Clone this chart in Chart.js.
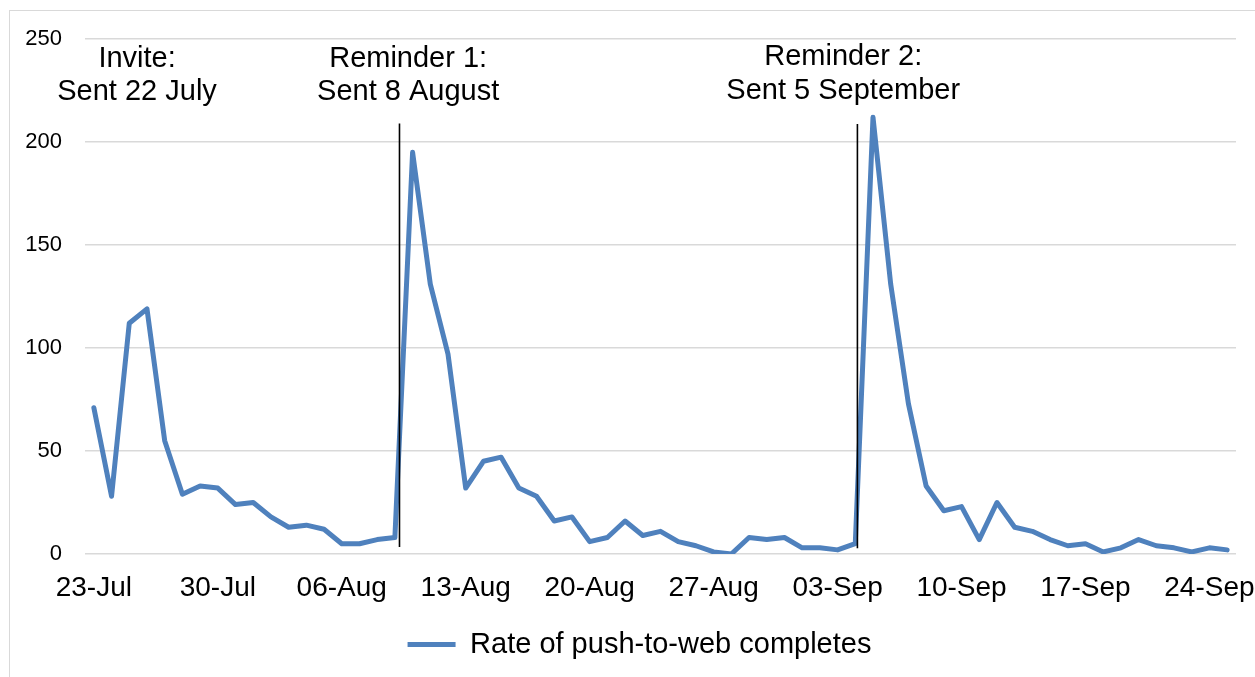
<!DOCTYPE html>
<html>
<head>
<meta charset="utf-8">
<script src="https://cdn.jsdelivr.net/npm/chart.js@4/dist/chart.umd.min.js"></script>
<style>
 html, body { margin: 0; padding: 0; background: #fff; overflow: hidden; }
 .frame { position: absolute; left: 9px; top: 10px; width: 1300px; height: 700px; border: 1.5px solid #d9d9d9; }
 .wrap { position: absolute; left: 0; top: 0; width: 1255px; height: 677px; }
</style>
</head>
<body>
<div class="frame"></div>
<div class="wrap"><canvas id="myChart"></canvas></div>
<script>
'use strict';

var days = [
 '23-Jul','24-Jul','25-Jul','26-Jul','27-Jul','28-Jul','29-Jul','30-Jul','31-Jul',
 '01-Aug','02-Aug','03-Aug','04-Aug','05-Aug','06-Aug','07-Aug','08-Aug','09-Aug','10-Aug',
 '11-Aug','12-Aug','13-Aug','14-Aug','15-Aug','16-Aug','17-Aug','18-Aug','19-Aug','20-Aug',
 '21-Aug','22-Aug','23-Aug','24-Aug','25-Aug','26-Aug','27-Aug','28-Aug','29-Aug','30-Aug','31-Aug',
 '01-Sep','02-Sep','03-Sep','04-Sep','05-Sep','06-Sep','07-Sep','08-Sep','09-Sep','10-Sep',
 '11-Sep','12-Sep','13-Sep','14-Sep','15-Sep','16-Sep','17-Sep','18-Sep','19-Sep','20-Sep',
 '21-Sep','22-Sep','23-Sep','24-Sep','25-Sep'
];
var completes = [
 71, 28, 112, 119, 55, 29, 33, 32, 24, 25, 18, 13, 14, 12, 5, 5, 7, 8,
 195, 131, 97, 32, 45, 47, 32, 28, 16, 18, 6, 8, 16, 9, 11, 6, 4, 1, 0, 8, 7, 8, 3, 3, 2, 5,
 212, 131, 73, 33, 21, 23, 7, 25, 13, 11, 7, 4, 5, 1, 3, 7, 4, 3, 1, 3, 2
];
var seriesName = 'Rate of push-to-web completes';
var yTicks = [0, 50, 100, 150, 200, 250];
var eventTitles = ['Invite:', 'Reminder 1:', 'Reminder 2:'];
var eventSent = ['Sent 22 July', 'Sent 8 August', 'Sent 5 September'];

(function () {
 var ctx = document.getElementById('myChart');
 var font = 'Liberation Sans, Arial, sans-serif';

 // where the event notes and send-date lines sit (category index / value units)
 var notes = [
  { x: 2.44, line: null },
  { x: 17.75, line: { x: 17.26, top: 209, bottom: 3.4 } },
  { x: 42.32, line: { x: 43.12, top: 208.7, bottom: 2.8 }, up: 1 }
 ];

 var eventPlugin = {
  id: 'events',
  afterLayout: function (chart) {
   // legend sits a little right of the middle in the original
   chart.legend.left += 16.5;
   chart.legend.right += 16.5;
  },
  afterDatasetsDraw: function (chart) {
   var c = chart.ctx;
   var xs = chart.scales.x, ys = chart.scales.y;
   c.save();
   notes.forEach(function (n, i) {
    if (n.line) {
     var lx = xs.getPixelForValue(n.line.x);
     c.beginPath();
     c.strokeStyle = '#000';
     c.lineWidth = 1.6;
     c.moveTo(lx, ys.getPixelForValue(n.line.top));
     c.lineTo(lx, ys.getPixelForValue(n.line.bottom));
     c.stroke();
    }
    var tx = xs.getPixelForValue(n.x);
    var up = n.up ? 1.5 : 0;
    c.fillStyle = '#000';
    c.font = '29px ' + font;
    c.textAlign = 'center';
    c.textBaseline = 'alphabetic';
    c.fillText(eventTitles[i], tx, 66.7 - up);
    c.fillText(eventSent[i], tx, 100 - up);
   });
   c.restore();
  }
 };

 var myChart = new Chart(ctx, {
  type: 'line',
  data: {
   labels: days,
   datasets: [{
    label: seriesName,
    data: completes,
    borderColor: '#4f81bd',
    backgroundColor: '#4f81bd',
    borderWidth: 5,
    borderJoinStyle: 'round',
    borderCapStyle: 'round',
    pointRadius: 0,
    tension: 0,
    fill: false
   }]
  },
  options: {
   responsive: true,
   maintainAspectRatio: false,
   animation: false,
   devicePixelRatio: 1,
   layout: { padding: { left: 10, right: 19, top: 39, bottom: 8 } },
   plugins: {
    tooltip: { enabled: false },
    legend: {
     position: 'bottom',
     labels: {
      usePointStyle: true,
      pointStyle: 'line',
      pointStyleWidth: 48,
      boxHeight: 5,
      color: '#000',
      font: { family: font, size: 29 },
      padding: 10
     }
    }
   },
   scales: {
    x: {
     offset: true,
     grid: { display: false, drawTicks: false },
     border: { display: false },
     ticks: {
      autoSkip: false,
      maxRotation: 0,
      minRotation: 0,
      padding: 17,
      color: '#000',
      font: { family: font, size: 28 },
      callback: function (v, i) { return i % 7 === 0 ? days[i] : ''; }
     },
     afterFit: function (s) { s.height = 66; }
    },
    y: {
     min: yTicks[0],
     max: yTicks[yTicks.length - 1],
     grid: { color: '#d9d9d9', lineWidth: 1.5, drawTicks: false },
     border: { display: false },
     ticks: {
      stepSize: 50,
      padding: 23,
      color: '#000',
      font: { family: font, size: 22 }
     },
     afterFit: function (s) { s.width = 75; }
    }
   }
  },
  plugins: [eventPlugin]
 });
})();
</script>
</body>
</html>
